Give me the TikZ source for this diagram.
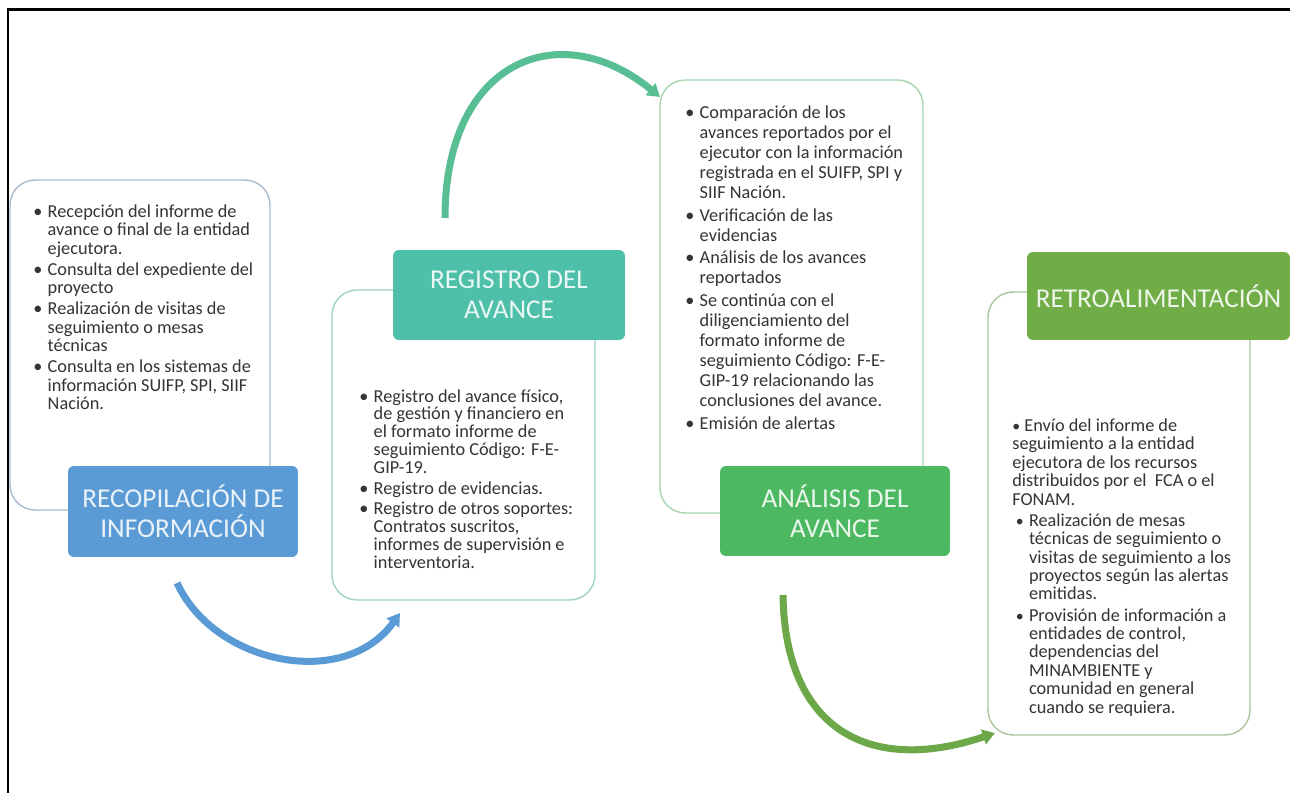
\documentclass[tikz,border=0pt]{standalone}
\usepackage{fontspec}
\setmainfont{Carlito}
\usetikzlibrary{arrows.meta}

\definecolor{recblue}{RGB}{91,155,213}
\definecolor{regteal}{RGB}{78,192,170}
\definecolor{anagreen}{RGB}{76,185,98}
\definecolor{retgreen}{RGB}{112,173,71}
\definecolor{recline}{RGB}{168,186,206}
\definecolor{regline}{RGB}{160,210,196}
\definecolor{analine}{RGB}{166,212,174}
\definecolor{retline}{RGB}{170,196,156}
\definecolor{txtgray}{RGB}{52,52,52}
\definecolor{arrteal}{RGB}{88,190,148}
\definecolor{arrgreen}{RGB}{108,168,72}

\begin{document}
\begin{tikzpicture}[x=0.02cm, y=-0.02cm,
	panel/.style={draw=#1, line width=0.8pt, rounded corners=0.5cm, fill=white, inner sep=0pt},
	heading/.style={fill=#1, rounded corners=0.12cm, inner sep=0pt, align=center, text=white!88!#1, font=\fontsize{15.5}{17}\selectfont},
	bullets/.style={anchor=north west, inner sep=0pt, text=txtgray, font=\fontsize{10.4}{#1}\selectfont},
	bullets/.default=10.5,
	flow/.style={draw=#1, line width=4pt, -{Triangle[length=7pt,width=8.5pt]}}]
	\useasboundingbox (0,0) rectangle (1290,793);
	\draw[line width=1.7pt] (8,793) -- (8,10) -- (1290,10);

	% text panels
	\node[panel=recline, minimum width=5.2cm, minimum height=6.6cm] (panrec) at (140,345) {};
	\node[panel=regline, minimum width=5.26cm, minimum height=6.2cm] (panreg) at (463.5,445) {};
	\node[panel=analine, minimum width=5.26cm, minimum height=8.66cm] (panana) at (791.5,296.5) {};
	\node[panel=retline, minimum width=5.24cm, minimum height=8.86cm] (panret) at (1119,513.5) {};

	% headings
	\node[heading=recblue, minimum width=4.6cm, minimum height=1.82cm] (hrec) at (183,511.5) {RECOPILACIÓN DE\\INFORMACIÓN};
	\node[heading=regteal, minimum width=4.64cm, minimum height=1.8cm] (hreg) at (509,295) {REGISTRO DEL\\AVANCE};
	\node[heading=anagreen, minimum width=4.6cm, minimum height=1.8cm] (hana) at (835,511) {ANÁLISIS DEL\\AVANCE};
	\node[heading=retgreen, minimum width=5.26cm, minimum height=1.76cm] (hret) at (1158.5,296) {RETROALIMENTACIÓN};

	\node[bullets] (txtrec) at (33,204) {\begin{tabular}{@{}l@{\hspace{3pt}}l@{}}
		\textbullet & Recepción del informe de\\
		& avance o final de la entidad\\
		& ejecutora.\\[1.5pt]
		\textbullet & Consulta del expediente del\\
		& proyecto\\[1.5pt]
		\textbullet & Realización de visitas de\\
		& seguimiento o mesas\\
		& técnicas\\[1.5pt]
		\textbullet & Consulta en los sistemas de\\
		& información SUIFP, SPI, SIIF\\
		& Nación.
	\end{tabular}};
	\node[bullets=10.0] (txtreg) at (359,389) {\begin{tabular}{@{}l@{\hspace{3pt}}l@{}}
		\textbullet & Registro del avance físico,\\
		& de gestión y financiero en\\
		& el formato informe de\\
		& seguimiento Código: F-E-\\
		& GIP-19.\\[1.5pt]
		\textbullet & Registro de evidencias.\\[1.5pt]
		\textbullet & Registro de otros soportes:\\
		& Contratos suscritos,\\
		& informes de supervisión e\\
		& interventoria.
	\end{tabular}};
	\node[bullets=11.4] (txtana) at (685,104) {\begin{tabular}{@{}l@{\hspace{3pt}}l@{}}
		\textbullet & Comparación de los\\
		& avances reportados por el\\
		& ejecutor con la información\\
		& registrada en el SUIFP, SPI y\\
		& SIIF Nación.\\[1.5pt]
		\textbullet & Verificación de las\\
		& evidencias\\[1.5pt]
		\textbullet & Análisis de los avances\\
		& reportados\\[1.5pt]
		\textbullet & Se continúa con el\\
		& diligenciamiento del\\
		& formato informe de\\
		& seguimiento Código: F-E-\\
		& GIP-19 relacionando las\\
		& conclusiones del avance.\\[1.5pt]
		\textbullet & Emisión de alertas
	\end{tabular}};
	\node[bullets] (txtret) at (1012,418) {\begin{tabular}{@{}l@{\hspace{3pt}}l@{}}
		\multicolumn{2}{@{}l@{}}{{\small\textbullet}\ Envío del informe de}\\
		\multicolumn{2}{@{}l@{}}{seguimiento a la entidad}\\
		\multicolumn{2}{@{}l@{}}{ejecutora de los recursos}\\
		\multicolumn{2}{@{}l@{}}{distribuidos por el \ FCA o el}\\
		\multicolumn{2}{@{}l@{}}{FONAM.}\\[1.5pt]
		\hspace{2pt}{\small\textbullet} & Realización de mesas\\
		& técnicas de seguimiento o\\
		& visitas de seguimiento a los\\
		& proyectos según las alertas\\
		& emitidas.\\[1.5pt]
		\hspace{2pt}{\small\textbullet} & Provisión de información a\\
		& entidades de control,\\
		& dependencias del\\
		& MINAMBIENTE y\\
		& comunidad en general\\
		& cuando se requiera.
	\end{tabular}};

	% curved arrows
	\coordinate (a1s) at (177,583);
	\coordinate (a1e) at (400,613);
	\coordinate (a2s) at (445,218);
	\coordinate (a2e) at (660,97);
	\coordinate (a3s) at (783,595);
	\coordinate (a3e) at (995,733);
	\draw[flow=recblue] (a1s) .. controls (215,665) and (345,690) .. (a1e);
	\draw[flow=arrteal] (a2s) .. controls (445,60) and (560,15) .. (a2e);
	\draw[flow=arrgreen] (a3s) .. controls (785,730) and (870,775) .. (a3e);
\end{tikzpicture}
\end{document}
